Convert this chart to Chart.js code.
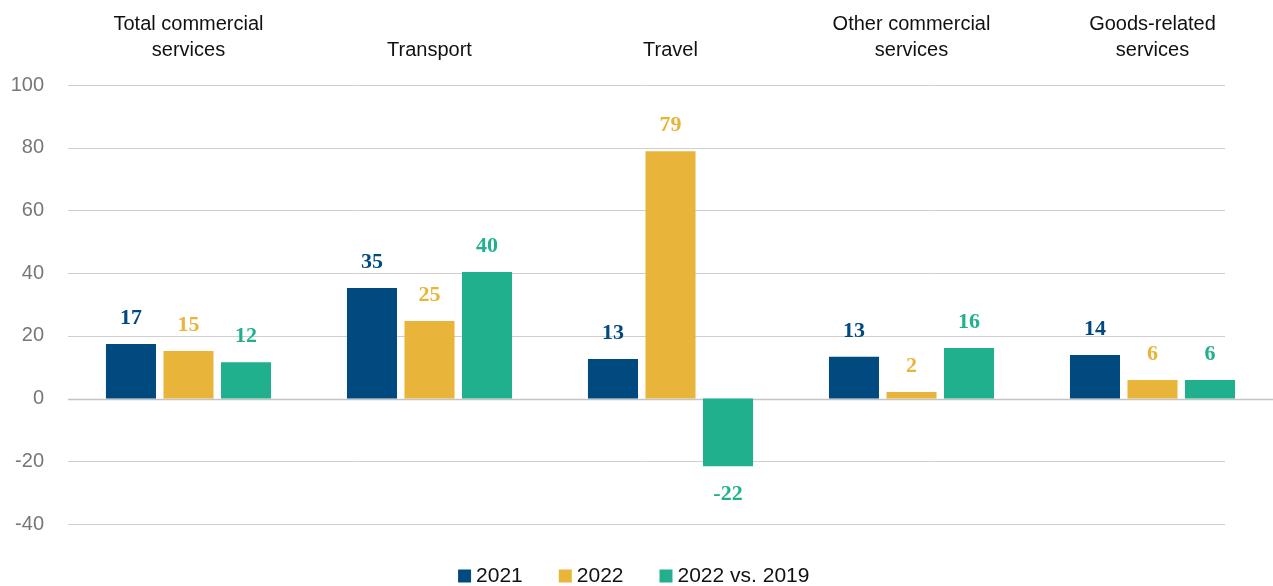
<!DOCTYPE html>
<html>
<head>
<meta charset="utf-8">
<script src="https://cdn.jsdelivr.net/npm/chart.js@4.4.1/dist/chart.umd.min.js"></script>
<style>
  html, body { margin: 0; padding: 0; background: #fff; }
  #wrap { width: 1273px; height: 586px; }
</style>
</head>
<body>
<div id="wrap"><canvas id="myChart" width="1273" height="586"></canvas></div>
<script>
// categories (multi-line labels on the top axis)
const categories = [
    ['Total commercial', 'services'],
    'Transport',
    'Travel',
    ['Other commercial', 'services'],
    ['Goods-related', 'services'],
];
const seriesNames = ['2021', '2022', '2022 vs. 2019'];
const values2021 = [17.4, 35.3, 12.6, 13.3, 13.9];
const values2022 = [15.2, 24.7, 78.9, 2.1, 5.9];
const values2022vs2019 = [11.6, 40.4, -21.6, 16.1, 5.9];
const yTicks = [-40, -20, 0, 20, 40, 60, 80, 100];

const colors = ['#004a80', '#e8b43a', '#20b08e'];

// grid lines: short ones end before the last group, zero line runs to the edge
const gridPlugin = {
    id: 'customGrid',
    beforeDatasetsDraw(chart) {
        const { ctx, chartArea, scales } = chart;
        ctx.save();
        yTicks.forEach(t => {
            const y = Math.round(scales.y.getPixelForValue(t)) + 0.5;
            ctx.beginPath();
            ctx.strokeStyle = t === 0 ? '#c4c4c4' : '#cfcfcf';
            ctx.lineWidth = t === 0 ? 1.5 : 1;
            ctx.moveTo(chartArea.left, y);
            ctx.lineTo(t === 0 ? chartArea.right : 1225, y);
            ctx.stroke();
        });
        ctx.restore();
    }
};

// value labels above (or below) each bar
const valueLabels = {
    id: 'valueLabels',
    afterDatasetsDraw(chart) {
        const { ctx } = chart;
        ctx.save();
        ctx.font = 'bold 22px "Liberation Serif", serif';
        ctx.textAlign = 'center';
        ctx.textBaseline = 'middle';
        chart.data.datasets.forEach((ds, i) => {
            const meta = chart.getDatasetMeta(i);
            meta.data.forEach((bar, j) => {
                const v = ds.data[j];
                ctx.fillStyle = colors[i];
                const y = v >= 0 ? bar.y - 26 : bar.y + 28;
                ctx.fillText(String(Math.round(v)), bar.x, y);
            });
        });
        ctx.restore();
    }
};

const ctx = document.getElementById('myChart').getContext('2d');
const chart = new Chart(ctx, {
    type: 'bar',
    data: {
        labels: categories,
        datasets: [
            { label: seriesNames[0], data: values2021, backgroundColor: colors[0] },
            { label: seriesNames[1], data: values2022, backgroundColor: colors[1] },
            { label: seriesNames[2], data: values2022vs2019, backgroundColor: colors[2] },
        ],
    },
    options: {
        responsive: false,
        animation: false,
        layout: { padding: { left: 0, right: 0, top: 0, bottom: -10.5 } },
        datasets: {
            bar: { categoryPercentage: 0.716, barPercentage: 0.87 },
        },
        plugins: {
            tooltip: { enabled: false },
            legend: {
                position: 'bottom',
                labels: {
                    usePointStyle: true,
                    pointStyle: 'rect',
                    boxWidth: 2,
                    boxHeight: 13,
                    padding: 41.5,
                    color: '#111',
                    font: { family: '"Liberation Sans", Arial, sans-serif', size: 21 },
                },
            },
        },
        scales: {
            x: {
                position: 'top',
                grid: { display: false, drawTicks: false },
                border: { display: false },
                ticks: {
                    color: '#111',
                    padding: 22,
                    maxRotation: 0,
                    autoSkip: false,
                    font: { family: '"Liberation Sans", Arial, sans-serif', size: 20, lineHeight: 1.3 },
                },
                afterFit(scale) { scale.height = 85; },
            },
            y: {
                min: -40,
                max: 100,
                grid: { display: false, drawTicks: false },
                border: { display: false },
                ticks: {
                    stepSize: 20,
                    color: '#777',
                    padding: 24,
                    font: { family: '"Liberation Sans", Arial, sans-serif', size: 20 },
                },
                afterFit(scale) { scale.width = 68; },
            },
        },
    },
    plugins: [gridPlugin, valueLabels],
});
</script>
</body>
</html>
